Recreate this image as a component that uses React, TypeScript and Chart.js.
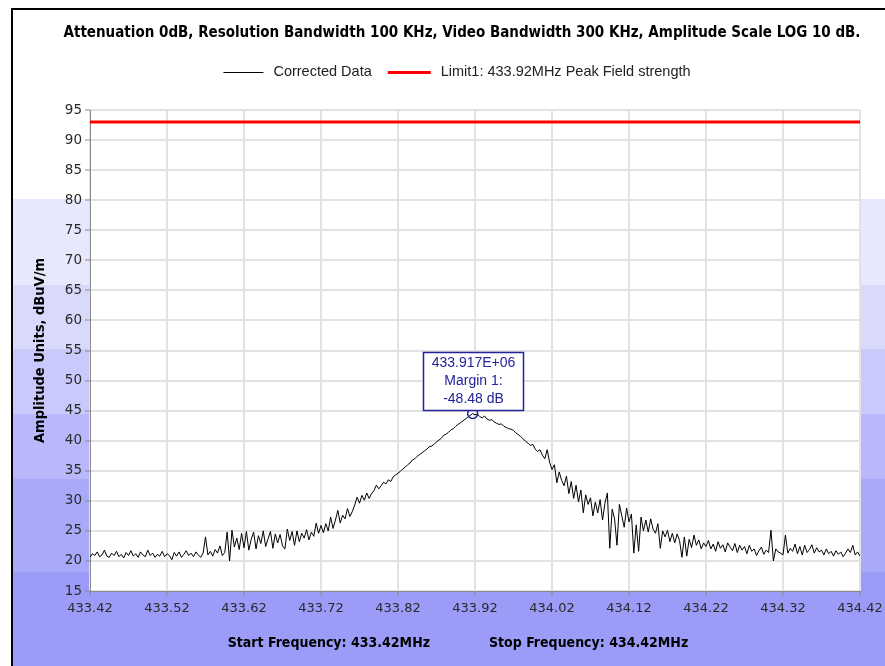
import React, { useEffect, useRef } from 'react';
import { Chart, registerables } from 'chart.js';

Chart.register(...registerables);

// ---------- data ----------
const START_FREQ = 433.42;
const STOP_FREQ = 434.42;
const X_TICKS = [433.42, 433.52, 433.62, 433.72, 433.82, 433.92, 434.02, 434.12, 434.22, 434.32, 434.42];
const Y_TICKS = [15, 20, 25, 30, 35, 40, 45, 50, 55, 60, 65, 70, 75, 80, 85, 90, 95];
const LIMIT_FREQS = [433.42, 434.42];
const LIMIT_LEVELS = [93, 93];

const TITLE = 'Attenuation 0dB, Resolution Bandwidth 100 KHz, Video Bandwidth 300 KHz, Amplitude Scale LOG 10 dB.';
const Y_TITLE = 'Amplitude Units, dBuV/m';
const X_TITLE_LEFT = 'Start Frequency: 433.42MHz';
const X_TITLE_RIGHT = 'Stop Frequency: 434.42MHz';
const SERIES_LABELS = ['Corrected Data', 'Limit1: 433.92MHz Peak Field strength'];

const MARKER_FREQ = 433.917;
const MARKER_LEVEL = 44.52;
const MARKER_LINES = ['433.917E+06', 'Margin 1:', '-48.48 dB'];

// measured trace (dBuV/m), equally spaced sweep points from START_FREQ to STOP_FREQ
const TRACE = [
  // 433.42 - 433.47
  20.6, 21.2, 20.9, 21.5, 20.7, 21.0, 21.8, 20.8, 20.6, 21.3, 20.9, 21.6, 20.7, 21.1, 20.5, 21.4,
  // 433.47 - 433.52
  20.9, 21.7, 20.8, 21.2, 20.6, 21.5, 21.0, 20.7, 21.8, 20.9, 21.3, 20.6, 21.1, 20.8, 21.6, 20.7,
  // 433.52 - 433.57
  21.2, 20.9, 20.2, 21.4, 20.8, 21.5, 20.6, 21.1, 21.7, 20.9, 21.3, 20.7, 21.5, 21.0, 20.6, 21.3,
  // 433.57 - 433.62
  24.0, 21.0, 21.6, 20.8, 21.9, 21.3, 22.5, 20.9, 21.4, 24.8, 20.0, 25.1, 22.3, 23.8, 21.9, 24.6,
  // 433.62 - 433.67
  22.2, 24.9, 21.8, 23.6, 24.8, 22.0, 24.2, 22.9, 25.0, 22.4, 23.7, 24.9, 22.1, 24.5, 23.0, 24.4,
  // 433.67 - 433.72
  22.5, 22.0, 25.3, 23.4, 24.9, 22.6, 25.0, 23.2, 24.6, 23.8, 25.2, 23.5, 24.8, 24.1, 26.3, 24.6,
  // 433.72 - 433.77
  25.9, 24.7, 26.2, 25.0, 27.3, 25.4, 26.8, 28.4, 26.3, 27.6, 27.0, 28.7, 27.4, 28.2, 29.3, 30.6,
  // 433.77 - 433.82
  29.6, 30.9, 30.1, 31.3, 30.4, 31.2, 31.7, 32.6, 32.0, 32.5, 33.1, 32.8, 33.5, 33.2, 34.0, 34.3,
  // 433.82 - 433.87
  34.6, 34.9, 35.3, 35.6, 36.0, 36.3, 36.8, 37.0, 37.4, 37.7, 38.0, 38.3, 38.6, 39.0, 39.1, 39.4,
  // 433.87 - 433.92
  39.8, 40.1, 40.4, 40.9, 41.1, 41.4, 41.8, 42.0, 42.4, 42.7, 43.0, 43.3, 43.6, 43.9, 44.2, 44.5,
  // 433.92 - 433.97
  44.3, 44.4, 44.0, 43.8, 44.1, 43.6, 43.4, 43.5, 43.1, 42.9, 42.7, 42.8, 42.4, 42.2, 42.0, 41.9,
  // 433.97 - 434.02
  41.7, 41.3, 41.0, 40.7, 40.3, 39.9, 39.6, 39.2, 39.4, 38.6, 38.2, 38.5, 37.6, 37.0, 38.5, 36.4,
  // 434.02 - 434.07
  35.2, 36.0, 33.0, 34.8, 33.4, 32.5, 34.1, 31.2, 33.2, 30.4, 32.6, 29.8, 31.8, 28.0, 31.0, 29.4,
  // 434.07 - 434.12
  30.5, 27.5, 29.8, 28.0, 30.2, 26.8, 29.6, 31.3, 22.1, 28.6, 27.0, 22.6, 29.4, 27.5, 25.6, 28.8,
  // 434.12 - 434.17
  26.5, 27.8, 21.3, 26.0, 21.6, 27.3, 25.0, 26.8, 24.8, 27.0, 25.3, 24.6, 26.2, 22.1, 25.0, 24.0,
  // 434.17 - 434.22
  25.1, 23.2, 24.6, 23.0, 24.5, 23.4, 20.6, 24.0, 20.8, 23.6, 22.2, 24.3, 22.6, 23.5, 22.0, 23.0,
  // 434.22 - 434.27
  22.4, 23.4, 22.0, 22.8, 21.6, 23.2, 22.1, 22.7, 21.5, 23.0, 22.3, 21.7, 22.9, 21.4, 22.6, 21.8,
  // 434.27 - 434.32
  22.4, 21.2, 22.6, 21.6, 22.0, 20.9, 21.7, 22.3, 21.1, 21.8, 21.4, 25.1, 20.0, 22.0, 21.5, 21.3,
  // 434.32 - 434.37
  21.0, 24.3, 21.3, 22.1, 21.6, 22.8, 21.2, 22.4, 21.0, 22.6, 21.4, 21.9, 22.7, 21.3, 22.2, 21.5,
  // 434.37 - 434.42
  21.8, 21.0, 22.0, 21.2, 21.6, 20.8, 21.7, 21.1, 21.5, 20.7, 21.3, 22.0, 21.4, 22.6, 21.0, 21.5, 20.8,
];

// ---------- styles ----------
const W = 885;
const H = 666;
const BANDS: [number, number, string][] = [
  [199, 285, '#e8e8fc'],
  [285, 349, '#d9d9fc'],
  [349, 414, '#c9c9fb'],
  [414, 479, '#b8b8fa'],
  [479, 572, '#a9a9f9'],
  [572, 666, '#9b9bf8'],
];
const TITLE_FONT = 'bold 15px "DejaVu Sans Condensed", "DejaVu Sans"';
const Y_TITLE_FONT = 'bold 14.5px "DejaVu Sans Condensed", "DejaVu Sans"';
const X_TITLE_FONT = 'bold 14px "DejaVu Sans Condensed", "DejaVu Sans"';
const LEGEND_FONT = '14.5px "Liberation Sans"';
const MARKER_FONT = '14px "Liberation Sans"';
const NAVY = '#23239a';

const decor = {
  id: 'decor',
  beforeDraw(chart: any) {
    const { ctx, width, height, chartArea: a } = chart;
    ctx.save();
    ctx.fillStyle = '#ffffff';
    ctx.fillRect(0, 0, width, height);
    BANDS.forEach(([y0, y1, c]) => {
      ctx.fillStyle = c;
      ctx.fillRect(13, y0, width - 13, y1 - y0);
    });
    ctx.fillStyle = '#000000';
    ctx.fillRect(11, 8, 2, height - 8);
    ctx.fillRect(11, 8, width - 11, 2);
    ctx.fillStyle = '#ffffff';
    ctx.fillRect(a.left, a.top, a.right - a.left, a.bottom - a.top);
    ctx.restore();
  },
  afterDraw(chart: any) {
    const { ctx, chartArea: a, scales } = chart;
    ctx.save();
    // title
    ctx.fillStyle = '#000';
    ctx.font = TITLE_FONT;
    ctx.textAlign = 'center';
    ctx.textBaseline = 'middle';
    ctx.fillText(TITLE, 462, 33);

    // legend
    ctx.font = LEGEND_FONT;
    const ds = chart.data.datasets;
    const lineW = [40, 43];
    const widths = ds.map((d: any) => ctx.measureText(d.label).width);
    const total = lineW[0] + 10 + widths[0] + 16 + lineW[1] + 10 + widths[1];
    let x = 457 - total / 2;
    const ly = 72;
    ds.forEach((d: any, i: number) => {
      ctx.strokeStyle = d.borderColor;
      ctx.lineWidth = i === 0 ? 1 : 3;
      ctx.beginPath();
      ctx.moveTo(x, ly + 0.5);
      ctx.lineTo(x + lineW[i], ly + 0.5);
      ctx.stroke();
      x += lineW[i] + 10;
      ctx.fillStyle = '#222';
      ctx.textAlign = 'left';
      ctx.fillText(d.label, x, ly);
      x += widths[i] + 16;
    });

    // y title
    ctx.font = Y_TITLE_FONT;
    ctx.fillStyle = '#000';
    ctx.save();
    ctx.translate(40, (a.top + a.bottom) / 2);
    ctx.rotate(-Math.PI / 2);
    ctx.textAlign = 'center';
    ctx.fillText(Y_TITLE, 0, 0);
    ctx.restore();

    // x title
    ctx.font = X_TITLE_FONT;
    const cx = (a.left + a.right) / 2;
    ctx.textAlign = 'right';
    ctx.fillText(X_TITLE_LEFT, cx - 45, 643);
    ctx.textAlign = 'left';
    ctx.fillText(X_TITLE_RIGHT, cx + 14, 643);

    // marker
    const mx = scales.x.getPixelForValue(MARKER_FREQ);
    const my = scales.y.getPixelForValue(MARKER_LEVEL);
    ctx.strokeStyle = NAVY;
    ctx.lineWidth = 1.5;
    ctx.beginPath();
    ctx.arc(mx, my, 5, 0, Math.PI * 2);
    ctx.stroke();
    const bw = 100;
    const bh = 58;
    const bx = Math.round(mx - bw / 2) + 0.5;
    const by = Math.round(my - 4 - bh) + 0.5;
    ctx.fillStyle = '#ffffff';
    ctx.fillRect(bx, by, bw, bh);
    ctx.lineWidth = 1.5;
    ctx.strokeRect(bx, by, bw, bh);
    ctx.fillStyle = NAVY;
    ctx.font = MARKER_FONT;
    ctx.textAlign = 'center';
    MARKER_LINES.forEach((t, i) => ctx.fillText(t, bx + bw / 2, by + 11 + i * 18));
    ctx.restore();
  },
};

export default function App() {
  const ref = useRef<HTMLCanvasElement | null>(null);
  useEffect(() => {
    if (!ref.current) return;
    const step = (STOP_FREQ - START_FREQ) / (TRACE.length - 1);
    const tracePts = TRACE.map((v, i) => ({ x: START_FREQ + i * step, y: v }));
    const limitPts = LIMIT_FREQS.map((f, i) => ({ x: f, y: LIMIT_LEVELS[i] }));
    const chart = new Chart(ref.current, {
      type: 'line',
      data: {
        datasets: [
          {
            label: SERIES_LABELS[0],
            data: tracePts,
            borderColor: '#000000',
            borderWidth: 1,
            pointRadius: 0,
            tension: 0,
          },
          {
            label: SERIES_LABELS[1],
            data: limitPts,
            borderColor: '#ff0000',
            borderWidth: 3,
            pointRadius: 0,
          },
        ],
      },
      options: {
        responsive: false,
        animation: false,
        devicePixelRatio: 1,
        layout: { padding: { top: 110, right: 25, left: 0, bottom: 0 } },
        plugins: {
          legend: { display: false },
          title: { display: false },
          tooltip: { enabled: false },
        },
        scales: {
          x: {
            type: 'linear',
            min: START_FREQ,
            max: STOP_FREQ,
            afterBuildTicks: (s: any) => {
              s.ticks = X_TICKS.map((v) => ({ value: v }));
            },
            afterFit: (s: any) => {
              s.height = 75;
              s.paddingLeft = 0;
              s.paddingRight = 0;
            },
            ticks: {
              callback: (v: any) => Number(v).toFixed(2),
              font: { family: 'DejaVu Sans', size: 13 },
              color: '#2a2a2a',
              padding: 5,
              maxRotation: 0,
              autoSkip: false,
            },
            grid: { color: '#e2e2e2', lineWidth: 2, tickColor: '#8a8a8a', tickWidth: 1, tickLength: 5 },
            border: { color: '#8a8a8a', width: 1 },
          },
          y: {
            type: 'linear',
            min: 15,
            max: 95,
            afterBuildTicks: (s: any) => {
              s.ticks = Y_TICKS.map((v) => ({ value: v }));
            },
            afterFit: (s: any) => {
              s.width = 90;
            },
            ticks: {
              font: { family: 'DejaVu Sans', size: 13.5 },
              color: '#2a2a2a',
              padding: 3,
              autoSkip: false,
            },
            grid: { color: '#e2e2e2', lineWidth: 2, tickColor: '#8a8a8a', tickWidth: 1, tickLength: 5 },
            border: { color: '#8a8a8a', width: 1 },
          },
        },
      },
      plugins: [decor],
    });
    return () => chart.destroy();
  }, []);
  return (
    <div style={{ position: 'absolute', left: 0, top: 0, width: W, height: H }}>
      <canvas ref={ref} width={W} height={H} style={{ display: 'block' }} />
    </div>
  );
}
